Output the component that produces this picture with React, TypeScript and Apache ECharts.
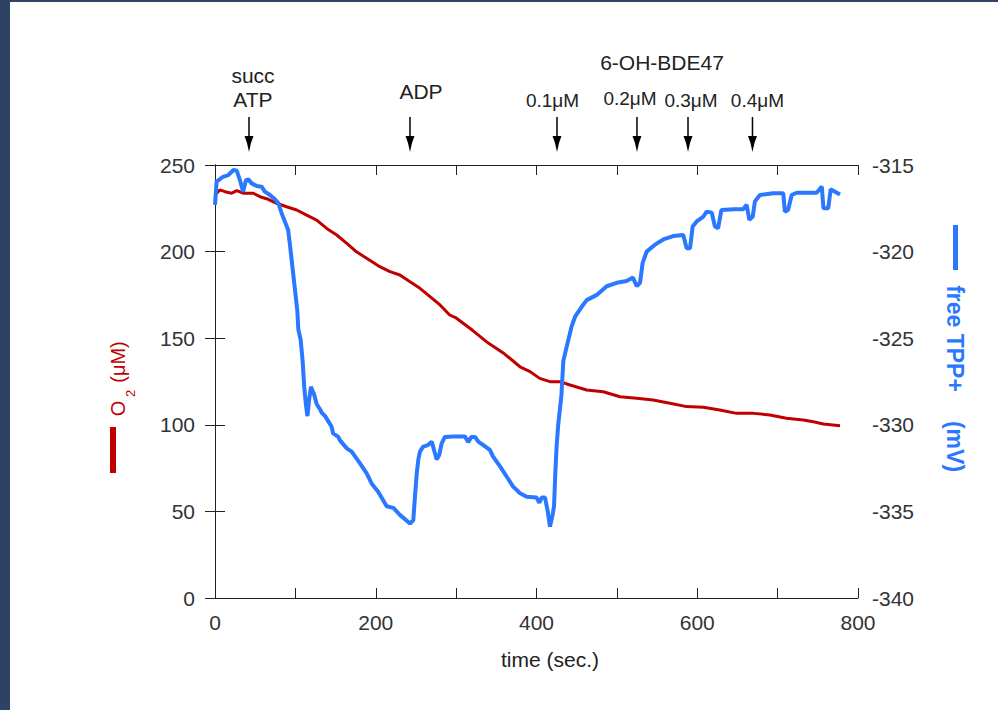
import React, { useEffect, useRef } from 'react';
import * as echarts from 'echarts';

// O2 trace (left axis, µM)
const o2Time = [0, 6, 12.4, 20.7, 27, 35, 47.7, 56, 66.3, 76.7, 89, 101.6, 114, 126.5, 139, 151.4, 164, 176, 188.7, 205, 217.7, 230, 242.6, 255, 267.5, 280, 292, 300, 320, 340, 360, 379.5, 392, 404, 416.8, 429, 441.7, 462.4, 483, 504, 524.7, 545, 566, 586.8, 607.6, 628, 649, 670, 690.5, 711, 732, 744.4, 757, 777.6];
const o2Values = [232.7, 235.6, 234.6, 233.7, 235.2, 233.7, 233.7, 231.7, 230.2, 227.9, 225.9, 224.0, 221.1, 218.2, 213.4, 209.6, 204.8, 199.9, 196.1, 191.3, 188.4, 186.5, 182.6, 178.8, 174.0, 169.2, 163.4, 161.7, 154.7, 147.2, 141.0, 133.5, 130.7, 126.8, 124.9, 124.9, 123.0, 120.1, 119.1, 116.2, 115.3, 114.3, 112.4, 110.5, 110.1, 108.5, 106.6, 106.6, 105.7, 103.8, 102.8, 101.8, 100.5, 99.5];

// free TPP+ trace (right axis, mV)
const tppTime = [0, 2, 10, 16.6, 23, 27, 31, 35, 38.6, 41.5, 45.6, 52, 58, 62, 68.4, 74.6, 78.8, 83, 87, 91, 93, 95.4, 99.5, 102.4, 103.7, 106.6, 109, 111, 113, 115, 117, 119.4, 121, 123, 126.5, 130.6, 132.7, 137, 141, 145, 147, 153.4, 155.5, 164, 170, 180, 188.7, 195, 203, 213.6, 222, 230, 242.6, 246.7, 248.8, 251, 253, 255, 259, 265, 269.6, 272.5, 275.8, 279, 282, 286, 296.5, 311, 315, 319, 323.5, 327.6, 333.8, 342, 346, 354.6, 363, 371, 379.5, 387.8, 400, 403.5, 406.5, 410.6, 414, 416.8, 420, 421.8, 423.4, 425, 427, 431, 433.4, 437.5, 443.8, 448, 456, 462.4, 475, 487.3, 499.8, 512, 520, 524.7, 528.8, 532, 537, 547.4, 557.8, 570, 582.6, 586.8, 591, 594.3, 599.3, 607.6, 611.7, 618, 622, 626, 630, 645, 657, 661.5, 664.8, 669, 671.8, 678, 694.6, 707, 709, 713, 717.5, 723.7, 748.6, 755, 757, 763, 766, 771.4, 777.6];
const tppValues = [-317.3, -315.96, -315.68, -315.58, -315.29, -315.33, -315.87, -316.54, -315.87, -315.83, -316.06, -316.21, -316.25, -316.54, -316.73, -316.98, -317.2, -317.8, -318.27, -318.75, -319.5, -320.5, -322.2, -323.4, -324.5, -325.1, -326.3, -327.8, -328.8, -329.5, -328.6, -327.8, -328.0, -328.2, -328.8, -329.1, -329.3, -329.5, -329.8, -330.1, -330.5, -330.7, -330.9, -331.36, -331.55, -332.2, -332.8, -333.4, -333.86, -334.7, -334.8, -335.2, -335.7, -335.5, -334.15, -332.8, -332.0, -331.55, -331.26, -331.17, -330.97, -331.45, -332.0, -331.74, -331.07, -330.7, -330.68, -330.68, -331.0, -330.7, -330.7, -330.97, -331.17, -331.45, -331.84, -332.4, -333.0, -333.57, -333.95, -334.15, -334.2, -334.5, -334.2, -334.2, -335.0, -335.88, -335.2, -334.7, -332.8, -331.26, -330.0, -328.3, -326.3, -325.5, -324.3, -323.76, -323.2, -322.8, -322.5, -322.0, -321.8, -321.7, -321.5, -322.0, -321.8, -320.67, -320.0, -319.6, -319.3, -319.1, -319.04, -319.8, -319.8, -318.55, -318.26, -317.98, -317.69, -317.75, -318.55, -318.65, -317.6, -317.56, -317.56, -317.3, -318.17, -317.98, -317.1, -316.73, -316.63, -316.63, -317.69, -317.6, -316.73, -316.6, -316.6, -316.25, -317.5, -317.5, -316.4, -316.54, -316.7];

// Additions (time, s) and their labels
const eventTimes = [42.3, 242.6, 425.5, 525, 588.5, 668.7];
const eventLabels = [['succ', 'ATP'], ['ADP'], ['0.1μM'], ['0.2μM'], ['0.3μM'], ['0.4μM']];
const groupLabel = '6-OH-BDE47';
const xAxisTitle = 'time (sec.)';
const rightTitleA = 'free TPP+';
const rightTitleB = '(mV)';

const FONT = '"Liberation Sans", Arial, Helvetica, sans-serif';
const RED = '#c00000';
const BLUE = '#2a78ff';

export default function App() {
  const ref = useRef<HTMLDivElement>(null);
  useEffect(() => {
    const chart = echarts.init(ref.current!, null, { renderer: 'svg' });
    const axisCommon = {
      axisLine: { show: true, lineStyle: { color: '#222', width: 1 } },
      axisTick: { show: true, inside: true, length: 10, lineStyle: { color: '#222', width: 1 } },
      splitLine: { show: false },
    };
    chart.setOption({
      animation: false,
      backgroundColor: '#ffffff',
      grid: { left: 215, top: 165, width: 643, height: 433, show: false },
      xAxis: [
        {
          type: 'value', min: 0, max: 800, interval: 100, position: 'bottom',
          ...axisCommon,
          axisLabel: {
            fontSize: 21, fontFamily: FONT, color: '#333', margin: 14,
            formatter: (v: number) => (v % 200 === 0 ? String(v) : ''),
          },
        },
        {
          type: 'value', min: 0, max: 800, interval: 100, position: 'top',
          ...axisCommon,
          axisLabel: { show: false },
        },
      ],
      yAxis: [
        {
          type: 'value', min: 0, max: 250, interval: 50, position: 'left',
          ...axisCommon,
          axisLabel: { fontSize: 21, fontFamily: FONT, color: '#333', margin: 20 },
        },
        {
          type: 'value', min: -340, max: -315, interval: 5, position: 'right',
          ...axisCommon,
          axisLabel: { fontSize: 21, fontFamily: FONT, color: '#333', margin: 14 },
        },
      ],
      series: [
        {
          type: 'line', xAxisIndex: 0, yAxisIndex: 0, showSymbol: false, symbol: 'none',
          lineStyle: { color: RED, width: 3 },
          data: o2Time.map((t, i) => [t, o2Values[i]]),
          z: 2,
        },
        {
          type: 'line', xAxisIndex: 0, yAxisIndex: 1, showSymbol: false, symbol: 'none',
          lineStyle: { color: BLUE, width: 4 },
          data: tppTime.map((t, i) => [t, tppValues[i]]),
          z: 3,
        },
      ],
    });

    const gfx: any[] = [];
    // page frame strips
    gfx.push({ type: 'rect', shape: { x: 0, y: 0, width: 10, height: 710 }, style: { fill: '#2e4364' }, silent: true });
    gfx.push({ type: 'rect', shape: { x: 0, y: 0, width: 998, height: 2 }, style: { fill: '#2e4364' }, silent: true });

    const labelDx = [4, 11, -4.5, -7, 3, 5];
    const labelY = [[75, 99], [91], [100], [98], [100], [100]];
    const labelSize = [21, 21, 19, 19, 19, 19];
    eventTimes.forEach((t, i) => {
      const x = chart.convertToPixel({ xAxisIndex: 0 }, t) as number;
      gfx.push({ type: 'line', shape: { x1: x, y1: 117, x2: x, y2: 140 }, style: { stroke: '#000', lineWidth: 1.5 }, silent: true });
      gfx.push({ type: 'polygon', shape: { points: [[x - 4.5, 136], [x + 4.5, 136], [x + 2, 143], [x, 152], [x - 2, 143]] }, style: { fill: '#000' }, silent: true });
      eventLabels[i].forEach((s, j) => {
        gfx.push({
          type: 'text', silent: true,
          style: { text: s, x: x + labelDx[i], y: labelY[i][j], textAlign: 'center', textVerticalAlign: 'middle', fontSize: labelSize[i], fontFamily: FONT, fill: '#222' },
        });
      });
    });
    gfx.push({ type: 'text', silent: true, style: { text: groupLabel, x: 662, y: 62, textAlign: 'center', textVerticalAlign: 'middle', fontSize: 21, fontFamily: FONT, fill: '#222' } });
    gfx.push({ type: 'text', silent: true, style: { text: xAxisTitle, x: 550, y: 659, textAlign: 'center', textVerticalAlign: 'middle', fontSize: 21, fontFamily: FONT, fill: '#222' } });

    // left axis title: O2 (µM) with legend bar
    gfx.push({ type: 'rect', shape: { x: 110, y: 427, width: 6, height: 46 }, style: { fill: RED }, silent: true });
    gfx.push({ type: 'text', silent: true, x: 118, y: 408.5, rotation: Math.PI / 2, style: { text: 'O', x: 0, y: 0, textAlign: 'center', textVerticalAlign: 'middle', fontSize: 20, fontFamily: FONT, fill: RED } });
    gfx.push({ type: 'text', silent: true, x: 130, y: 393.5, rotation: Math.PI / 2, style: { text: '2', x: 0, y: 0, textAlign: 'center', textVerticalAlign: 'middle', fontSize: 13, fontFamily: FONT, fill: RED } });
    gfx.push({ type: 'text', silent: true, x: 118, y: 362, rotation: Math.PI / 2, style: { text: '(μM)', x: 0, y: 0, textAlign: 'center', textVerticalAlign: 'middle', fontSize: 20, fontFamily: FONT, fill: RED } });

    // right axis title with legend bar
    gfx.push({ type: 'rect', shape: { x: 953, y: 225, width: 5, height: 45 }, style: { fill: BLUE }, silent: true });
    gfx.push({ type: 'text', silent: true, x: 955, y: 338.5, rotation: -Math.PI / 2, style: { text: rightTitleA, x: 0, y: 0, textAlign: 'center', textVerticalAlign: 'middle', fontSize: 23, fontWeight: 'bold', fontFamily: FONT, fill: BLUE } });
    gfx.push({ type: 'text', silent: true, x: 955, y: 446.5, rotation: -Math.PI / 2, style: { text: rightTitleB, x: 0, y: 0, textAlign: 'center', textVerticalAlign: 'middle', fontSize: 23, fontWeight: 'bold', fontFamily: FONT, fill: BLUE } });

    chart.setOption({ graphic: gfx });
    return () => chart.dispose();
  }, []);
  return (
    <div
      ref={ref}
      style={{ position: 'absolute', left: 0, top: 0, width: 998, height: 710, background: '#fff' }}
    />
  );
}
